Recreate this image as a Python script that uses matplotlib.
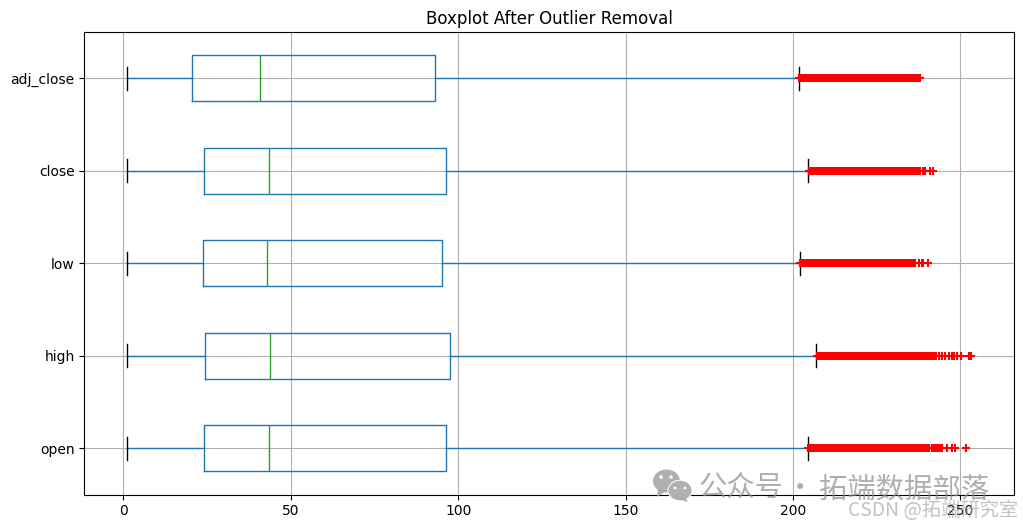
import matplotlib
matplotlib.use('Agg')
import matplotlib.pyplot as plt
from matplotlib.patches import Ellipse, Polygon

labels = ['open', 'high', 'low', 'close', 'adj_close']

whislo = [1.0, 1.0, 1.0, 1.0, 1.0]
q1 = [24.2, 24.5, 23.9, 24.2, 20.6]
med = [43.6, 43.9, 43.0, 43.6, 40.9]
q3 = [96.4, 97.6, 95.2, 96.4, 93.1]
whishi = [204.4, 207.0, 202.0, 204.5, 201.7]

open_fliers = [
    204.5, 205, 205.5, 206, 206.5, 207, 207.5, 208, 208.5, 209, 209.5, 210, 210.5, 211, 211.5, 212,
    212.5, 213, 213.5, 214, 214.5, 215, 215.5, 216, 216.5, 217, 217.5, 218, 218.5, 219, 219.5, 220,
    220.5, 221, 221.5, 222, 222.5, 223, 223.5, 224, 224.5, 225, 225.5, 226, 226.5, 227, 227.5, 228,
    228.5, 229, 229.5, 230, 230.5, 231, 231.5, 232, 232.5, 233, 233.5, 234, 234.5, 235, 235.5, 236,
    236.5, 237, 237.5, 238, 238.5, 239, 239.5, 239.9,
    240.7, 241.6, 242.2, 242.8, 243.4, 244.0, 244.6, 246.1, 247.6, 248.5, 251.8,
]
high_fliers = [
    207.2, 207.5, 208, 208.5, 209, 209.5, 210, 210.5, 211, 211.5, 212, 212.5, 213, 213.5, 214, 214.5,
    215, 215.5, 216, 216.5, 217, 217.5, 218, 218.5, 219, 219.5, 220, 220.5, 221, 221.5, 222, 222.5,
    223, 223.5, 224, 224.5, 225, 225.5, 226, 226.5, 227, 227.5, 228, 228.5, 229, 229.5, 230, 230.5,
    231, 231.5, 232, 232.5, 233, 233.5, 234, 234.5, 235, 235.5, 236, 236.5, 237, 237.5, 238, 238.5,
    239, 239.5, 240, 240.5, 241, 241.5, 242, 242.5, 242.8,
    243.7, 244.6, 245.5, 246.7, 247.6, 248.2, 249.1, 250.3, 252.7, 253.2,
]
low_fliers = [
    202.2, 202.5, 203, 203.5, 204, 204.5, 205, 205.5, 206, 206.5, 207, 207.5, 208, 208.5, 209, 209.5,
    210, 210.5, 211, 211.5, 212, 212.5, 213, 213.5, 214, 214.5, 215, 215.5, 216, 216.5, 217, 217.5,
    218, 218.5, 219, 219.5, 220, 220.5, 221, 221.5, 222, 222.5, 223, 223.5, 224, 224.5, 225, 225.5,
    226, 226.5, 227, 227.5, 228, 228.5, 229, 229.5, 230, 230.5, 231, 231.5, 232, 232.5, 233, 233.5,
    234, 234.5, 235, 235.5, 236, 236.3,
    237.5, 238.4, 238.8, 240.2,
]
close_fliers = [
    204.7, 205, 205.5, 206, 206.5, 207, 207.5, 208, 208.5, 209, 209.5, 210, 210.5, 211, 211.5, 212,
    212.5, 213, 213.5, 214, 214.5, 215, 215.5, 216, 216.5, 217, 217.5, 218, 218.5, 219, 219.5, 220,
    220.5, 221, 221.5, 222, 222.5, 223, 223.5, 224, 224.5, 225, 225.5, 226, 226.5, 227, 227.5, 228,
    228.5, 229, 229.5, 230, 230.5, 231, 231.5, 232, 232.5, 233, 233.5, 234, 234.5, 235, 235.5, 236,
    236.5, 237, 237.5, 237.8,
    238.7, 239.3, 240.8, 241.7,
]
adj_close_fliers = [
    201.9, 202.5, 203, 203.5, 204, 204.5, 205, 205.5, 206, 206.5, 207, 207.5, 208, 208.5, 209, 209.5,
    210, 210.5, 211, 211.5, 212, 212.5, 213, 213.5, 214, 214.5, 215, 215.5, 216, 216.5, 217, 217.5,
    218, 218.5, 219, 219.5, 220, 220.5, 221, 221.5, 222, 222.5, 223, 223.5, 224, 224.5, 225, 225.5,
    226, 226.5, 227, 227.5, 228, 228.5, 229, 229.5, 230, 230.5, 231, 231.5, 232, 232.5, 233, 233.5,
    234, 234.5, 235, 235.5, 236, 236.5, 237, 237.5, 237.8,
]
fliers = [open_fliers, high_fliers, low_fliers, close_fliers, adj_close_fliers]

stats = []
for i in range(len(labels)):
    stats.append({'label': labels[i], 'whislo': whislo[i], 'q1': q1[i], 'med': med[i],
                  'q3': q3[i], 'whishi': whishi[i], 'fliers': fliers[i]})

fig = plt.figure(figsize=(10.23, 5.28), dpi=100)
ax = fig.add_axes([84.3 / 1023, 1 - 494.5 / 528, 930 / 1023, 462.5 / 528])

ax.bxp(stats, orientation='horizontal', widths=0.5,
       boxprops=dict(color='C0'),
       whiskerprops=dict(color='C0'),
       capprops=dict(color='k'),
       medianprops=dict(color='C2'),
       flierprops=dict(marker='+', markeredgecolor='r', markerfacecolor='r',
                       markeredgewidth=1.5, linestyle='none'))
ax.grid(True)
ax.set_xlim(-11.65, 266.1)
ax.set_ylim(0.5, 5.5)
ax.set_title('Boxplot After Outlier Removal')

# watermarks sit on top of everything, placed in pixel coords
over = fig.add_axes([0, 0, 1, 1], facecolor='none')
over.set_xlim(0, 1023)
over.set_ylim(528, 0)
over.axis('off')

grey = '#a8a8a8'
over.add_patch(Ellipse((666.5, 481), 27, 23, color=grey, alpha=0.9, lw=0))
over.add_patch(Polygon([(658, 488), (657, 497), (666, 491)], color=grey, alpha=0.9, lw=0))
over.add_patch(Ellipse((680, 490.5), 25, 21.5, color='white', lw=0))
over.add_patch(Ellipse((680, 490.5), 23, 19.5, color=grey, alpha=0.9, lw=0))
over.add_patch(Polygon([(685, 497), (688, 502), (678, 499)], color=grey, alpha=0.9, lw=0))
for ex, ey, er in [(661, 477, 3.4), (671, 477, 3.4), (675, 488, 2.8), (685, 488, 2.8)]:
    over.add_patch(Ellipse((ex, ey), er, er, color='white', lw=0))

cjk = ['Noto Sans CJK SC', 'DejaVu Sans']
mark = dict(family=cjk, fontsize=20.4, color='#8c8c8c', alpha=0.7, va='center')
over.text(699, 489, '公众号', ha='left', **mark)
over.text(800, 489, '·', ha='center', **mark)
over.text(819, 489, '拓端数据部落', ha='left', **mark)
over.text(848, 511, 'CSDN @拓端研究室', family=cjk, fontsize=13.9, color='#a8a8a8',
          alpha=0.7, ha='left', va='center')

fig.savefig('out.png', dpi=100)
